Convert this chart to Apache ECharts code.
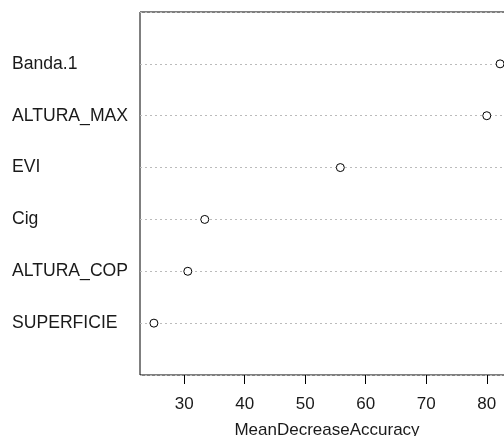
<!DOCTYPE html>
<html><head><meta charset="utf-8">
<script src="https://cdn.jsdelivr.net/npm/echarts@6/dist/echarts.min.js"></script>
<style>html,body{margin:0;padding:0;background:#fff}#c{width:504px;height:436px}</style>
</head><body><div id="c"></div>
<script>
// bottom-to-top order
const categories = ['SUPERFICIE','ALTURA_COP','Cig','EVI','ALTURA_MAX','Banda.1'];
const values = [25.0, 30.6, 33.4, 55.8, 80.0, 82.2];
const xTicks = [30, 40, 50, 60, 70, 80];
const xTitle = 'MeanDecreaseAccuracy';

const chart = echarts.init(document.getElementById('c'), null, {renderer:'canvas'});
const font = 'Liberation Sans, Arial, sans-serif';
chart.setOption({
  animation: false,
  grid: {left:140, top:12, width:374, height:363, show:true, borderColor:'#000', borderWidth:1,
    backgroundColor:'transparent', outerBoundsMode:'none', containLabel:false},
  xAxis: {
    type:'value', min:22.7, max:84.5,
    axisLine:{show:false},
    axisTick:{show:true, length:9, customValues:xTicks, lineStyle:{color:'#000'}},
    axisLabel:{customValues:xTicks, fontSize:17, color:'#1a1a1a', fontFamily:font, margin:21},
    splitLine:{show:false},
    name:xTitle, nameLocation:'middle', nameGap:47,
    nameTextStyle:{fontSize:17, color:'#1a1a1a', fontFamily:font}
  },
  yAxis: {
    type:'value', min:0, max:7, interval:1,
    axisLine:{show:false}, axisTick:{show:false},
    axisLabel:{fontSize:17.6, color:'#1a1a1a', fontFamily:font, align:'left', margin:128,
      padding:[3,0,0,0],
      formatter:v => (v>=1 && v<=categories.length) ? categories[v-1] : ''},
    splitLine:{show:true, lineStyle:{color:'#bbb', type:[2,3], width:1}}
  },
  series: [{
    type:'scatter', symbol:'circle', symbolSize:8,
    itemStyle:{color:'#fff', borderColor:'#000', borderWidth:1, opacity:1},
    data: values.map((v,i)=>[v, i+1])
  }]
});
</script></body></html>
